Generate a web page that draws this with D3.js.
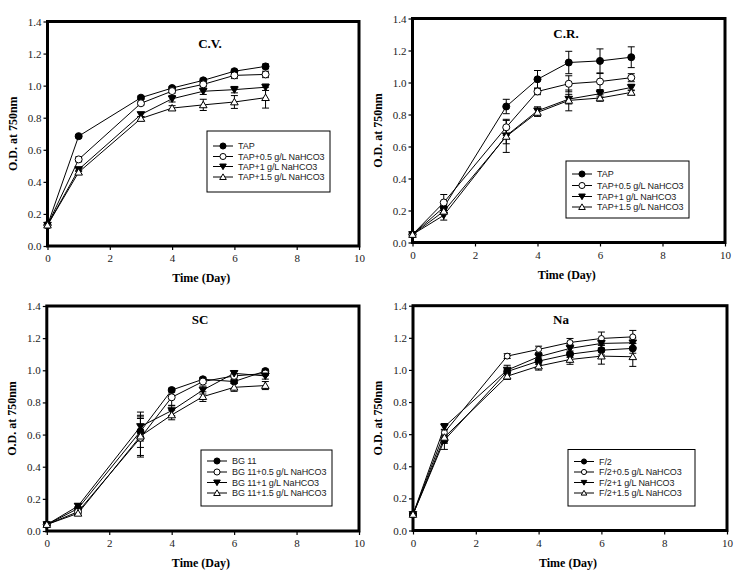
<!DOCTYPE html>
<html><head><meta charset="utf-8">
<script src="https://cdn.jsdelivr.net/npm/d3@7"></script>
<style>body{margin:0;background:#fff}svg{display:block}</style>
</head><body><svg id="c" width="745" height="576"></svg>
<script>
const days = [0, 1, 3, 4, 5, 6, 7];
const xTicks = [0, 2, 4, 6, 8, 10];
const yTicks = [0, 0.2, 0.4, 0.6, 0.8, 1.0, 1.2, 1.4];
const panelTitles = ["C.V.", "C.R.", "SC", "Na"];
const seriesNamesCV = ["TAP", "TAP+0.5 g/L NaHCO3", "TAP+1 g/L NaHCO3", "TAP+1.5 g/L NaHCO3"];
const seriesNamesCR = ["TAP", "TAP+0.5 g/L NaHCO3", "TAP+1 g/L NaHCO3", "TAP+1.5 g/L NaHCO3"];
const seriesNamesSC = ["BG 11", "BG 11+0.5 g/L NaHCO3", "BG 11+1 g/L NaHCO3", "BG 11+1.5 g/L NaHCO3"];
const seriesNamesNa = ["F/2", "F/2+0.5 g/L NaHCO3", "F/2+1 g/L NaHCO3", "F/2+1.5 g/L NaHCO3"];

// C.V.
const cvValues = [
  [0.13, 0.685, 0.925, 0.985, 1.033, 1.09, 1.12],
  [0.13, 0.54, 0.89, 0.966, 1.008, 1.064, 1.07],
  [0.13, 0.477, 0.82, 0.918, 0.965, 0.975, 0.99],
  [0.13, 0.46, 0.795, 0.86, 0.88, 0.898, 0.925]
];
const cvErrors = [
  [0.005, 0.01, 0.01, 0.01, 0.012, 0.012, 0.015],
  [0.005, 0.015, 0.01, 0.012, 0.012, 0.02, 0.02],
  [0.005, 0.012, 0.012, 0.02, 0.02, 0.02, 0.02],
  [0.005, 0.012, 0.012, 0.015, 0.035, 0.04, 0.065]
];
// C.R.
const crValues = [
  [0.05, 0.22, 0.85, 1.02, 1.125, 1.135, 1.158],
  [0.05, 0.25, 0.72, 0.944, 0.992, 1.006, 1.03],
  [0.05, 0.17, 0.667, 0.823, 0.896, 0.93, 0.969],
  [0.05, 0.195, 0.663, 0.813, 0.888, 0.903, 0.938]
];
const crErrors = [
  [0.005, 0.02, 0.045, 0.055, 0.07, 0.075, 0.065],
  [0.005, 0.05, 0.05, 0.02, 0.05, 0.05, 0.025],
  [0.005, 0.03, 0.05, 0.025, 0.03, 0.02, 0.02],
  [0.005, 0.02, 0.1, 0.025, 0.065, 0.02, 0.015]
];
// SC
const scValues = [
  [0.04, 0.14, 0.62, 0.877, 0.944, 0.93, 0.995],
  [0.04, 0.12, 0.58, 0.832, 0.93, 0.965, 0.98],
  [0.04, 0.155, 0.65, 0.749, 0.877, 0.981, 0.965],
  [0.04, 0.11, 0.59, 0.722, 0.836, 0.894, 0.905]
];
const scErrors = [
  [0.005, 0.01, 0.1, 0.012, 0.012, 0.012, 0.012],
  [0.005, 0.01, 0.12, 0.05, 0.012, 0.012, 0.012],
  [0.005, 0.015, 0.09, 0.03, 0.025, 0.015, 0.02],
  [0.005, 0.01, 0.12, 0.03, 0.03, 0.025, 0.025]
];
// Na
const naValues = [
  [0.1, 0.563, 0.99, 1.055, 1.098, 1.123, 1.134],
  [0.1, 0.61, 1.086, 1.128, 1.171, 1.196, 1.206],
  [0.1, 0.646, 0.999, 1.082, 1.134, 1.165, 1.169],
  [0.1, 0.58, 0.961, 1.024, 1.065, 1.086, 1.082]
];
const naErrors = [
  [0.005, 0.02, 0.015, 0.02, 0.02, 0.03, 0.03],
  [0.005, 0.02, 0.015, 0.02, 0.025, 0.04, 0.04],
  [0.005, 0.02, 0.03, 0.02, 0.025, 0.03, 0.03],
  [0.005, 0.075, 0.02, 0.025, 0.03, 0.05, 0.06]
];

const panels = [
  {title: panelTitles[0], names: seriesNamesCV, values: cvValues, errors: cvErrors,
   x0: 47.5, x1: 359, y0: 246, y1: 21.5, tx: 210, ty: 48, lg: [207, 131, 123, 61], ly: [146, 156.5, 166.5, 177], small: false},
  {title: panelTitles[1], names: seriesNamesCR, values: crValues, errors: crErrors,
   x0: 412.5, x1: 725, y0: 242.5, y1: 18.5, tx: 566, ty: 38, lg: [566, 161, 123, 57], ly: [174, 185.5, 196.5, 207], small: false},
  {title: panelTitles[2], names: seriesNamesSC, values: scValues, errors: scErrors,
   x0: 46.8, x1: 359, y0: 531, y1: 306, tx: 200, ty: 324, lg: [201, 450, 131, 56], ly: [461, 472, 482.5, 493], small: false},
  {title: panelTitles[3], names: seriesNamesNa, values: naValues, errors: naErrors,
   x0: 413, x1: 727, y0: 530.5, y1: 305.7, tx: 561, ty: 324, lg: [568, 449.5, 127, 56.5], ly: [461.5, 472, 482.5, 493], small: true}
];

const svg = d3.select("#c");
const symbols = [
  {type: d3.symbolCircle, fill: "#000"},
  {type: d3.symbolCircle, fill: "#fff"},
  {type: "down", fill: "#000"},
  {type: d3.symbolTriangle, fill: "#fff"}
];
function markerPath(i, size) {
  const s = symbols[i];
  if (s.type === "down") {
    const r = size;
    return `M${-r},${-r*0.75}L${r},${-r*0.75}L0,${r*0.95}Z`;
  }
  if (s.type === d3.symbolTriangle) {
    const r = size;
    return `M${-r},${r*0.75}L${r},${r*0.75}L0,${-r*0.95}Z`;
  }
  return d3.symbol().type(d3.symbolCircle).size(Math.PI * size * size * 0.85)();
}

panels.forEach(p => {
  const x = d3.scaleLinear().domain([0, 10]).range([p.x0, p.x1]);
  const y = d3.scaleLinear().domain([0, 1.4]).range([p.y0, p.y1]);
  const g = svg.append("g");

  const ax = g.append("g").attr("transform", `translate(0,${p.y0})`)
    .call(d3.axisBottom(x).tickValues(xTicks).tickFormat(d3.format("d")).tickSize(4).tickSizeOuter(0));
  const ay = g.append("g").attr("transform", `translate(${p.x0},0)`)
    .call(d3.axisLeft(y).tickValues(yTicks).tickFormat(d3.format(".1f")).tickSize(4).tickSizeOuter(0));
  [ax, ay].forEach(a => {
    a.select(".domain").remove();
    a.selectAll("text").attr("font-family", "Liberation Serif, Times New Roman, serif")
      .attr("font-size", 11).attr("fill", "#222");
    a.selectAll("line").attr("stroke", "#000").attr("stroke-width", 1.2);
  });
  ax.selectAll("text").attr("dy", "0.95em").attr("y", 6);
  ay.selectAll("text").attr("x", -6);

  g.append("rect").attr("x", p.x0).attr("y", p.y1).attr("width", p.x1 - p.x0).attr("height", p.y0 - p.y1)
    .attr("fill", "none").attr("stroke", "#000").attr("stroke-width", 3);

  g.append("text").attr("x", p.tx).attr("y", p.ty).attr("text-anchor", "middle")
    .attr("font-family", "Liberation Serif, Times New Roman, serif").attr("font-weight", "bold")
    .attr("font-size", 13).text(p.title);
  g.append("text").attr("x", (p.x0 + p.x1) / 2 - 2).attr("y", p.y0 + 36).attr("text-anchor", "middle")
    .attr("font-family", "Liberation Serif, Times New Roman, serif").attr("font-weight", "bold")
    .attr("font-size", 12).text("Time (Day)");
  g.append("text").attr("transform", `translate(${p.x0 - 31},${(p.y0 + p.y1) / 2}) rotate(-90)`)
    .attr("text-anchor", "middle")
    .attr("font-family", "Liberation Serif, Times New Roman, serif").attr("font-weight", "bold")
    .attr("font-size", 12).text("O.D. at 750nm");

  const line = d3.line().x((d, i) => x(days[i])).y(d => y(d));
  p.values.forEach((vals, si) => {
    const sg = g.append("g");
    vals.forEach((v, i) => {
      const e = p.errors[si][i];
      const cx = x(days[i]);
      sg.append("line").attr("x1", cx).attr("x2", cx).attr("y1", y(v - e)).attr("y2", y(v + e))
        .attr("stroke", "#000").attr("stroke-width", 1);
      [v - e, v + e].forEach(w => sg.append("line").attr("x1", cx - 3.5).attr("x2", cx + 3.5)
        .attr("y1", y(w)).attr("y2", y(w)).attr("stroke", "#000").attr("stroke-width", 1));
    });
    sg.append("path").attr("d", line(vals)).attr("fill", "none").attr("stroke", "#000").attr("stroke-width", 1);
  });
  p.values.forEach((vals, si) => {
    g.append("g").selectAll("path").data(vals).join("path")
      .attr("transform", (d, i) => `translate(${x(days[i])},${y(d)})`)
      .attr("d", markerPath(si, p.small && si === 1 ? 3.2 : 3.8))
      .attr("fill", symbols[si].fill).attr("stroke", "#000").attr("stroke-width", 1);
  });

  const [lx, ly, lw, lh] = p.lg;
  const lgG = g.append("g");
  lgG.append("rect").attr("x", lx).attr("y", ly).attr("width", lw).attr("height", lh)
    .attr("fill", "#fff").attr("stroke", "#000").attr("stroke-width", 1);
  p.names.forEach((n, i) => {
    const yy = p.ly[i];
    lgG.append("line").attr("x1", lx + 6).attr("x2", lx + 26).attr("y1", yy).attr("y2", yy)
      .attr("stroke", "#000").attr("stroke-width", 1);
    lgG.append("path").attr("transform", `translate(${lx + 16},${yy})`)
      .attr("d", markerPath(i, p.small ? 2.8 : 3.3)).attr("fill", symbols[i].fill)
      .attr("stroke", "#000").attr("stroke-width", 1);
    lgG.append("text").attr("x", lx + 31).attr("y", yy).attr("dy", "0.35em")
      .attr("font-family", "Liberation Sans, Arial, sans-serif").attr("font-size", 9)
      .attr("letter-spacing", -0.1)
      .attr("fill", "#222").text(n);
  });
});
</script></body></html>
